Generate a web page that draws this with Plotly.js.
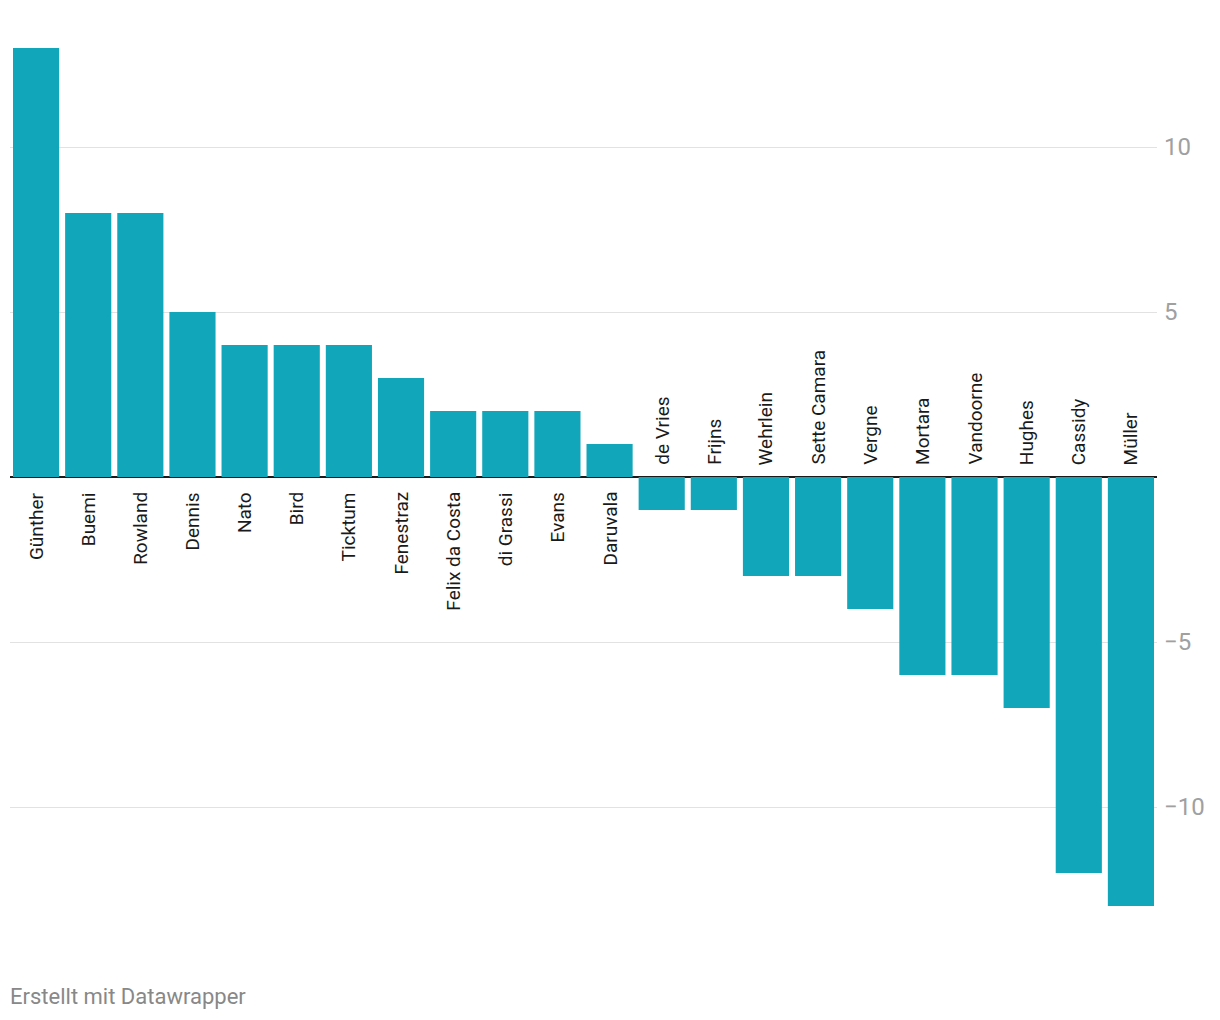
<!DOCTYPE html>
<html>
<head>
<meta charset="utf-8">
<script src="https://cdn.plot.ly/plotly-3.0.1.min.js"></script>
<style>html,body{margin:0;padding:0;background:#fff;}#chart{width:1220px;height:1020px;}</style>
</head>
<body>
<div id="chart"></div>
<script>
const drivers = ["Günther","Buemi","Rowland","Dennis","Nato","Bird","Ticktum","Fenestraz","Felix da Costa","di Grassi","Evans","Daruvala","de Vries","Frijns","Wehrlein","Sette Camara","Vergne","Mortara","Vandoorne","Hughes","Cassidy","Müller"];
const points = [13,8,8,5,4,4,4,3,2,2,2,1,-1,-1,-3,-3,-4,-6,-6,-7,-12,-13];
const tickValues = [-10,-5,5,10];
const tickLabels = ["−10","−5","5","10"];
const footerText = "Erstellt mit Datawrapper";

const annotations = drivers.map((d, i) => ({
  x: d, y: 0, xref: 'x', yref: 'y',
  text: d, showarrow: false, textangle: -90,
  xanchor: 'center',
  yanchor: points[i] >= 0 ? 'top' : 'bottom',
  yshift: points[i] >= 0 ? -13 : 10,
  font: {family: 'Roboto, sans-serif', size: 19, color: '#1a1a1a'}
}));
annotations.push({
  xref: 'paper', yref: 'paper', x: 0, y: 0, xanchor: 'left', yanchor: 'middle',
  xshift: -2, yshift: -57,
  text: footerText, showarrow: false,
  font: {family: 'Roboto, sans-serif', size: 22, color: '#888'}
});

Plotly.newPlot('chart', [{
  type: 'bar', x: drivers, y: points,
  marker: {color: '#12a6ba', line: {width: 0}},
  hoverinfo: 'skip'
}], {
  width: 1220, height: 1020,
  margin: {l: 10, r: 63, t: 15, b: 81, pad: 0},
  paper_bgcolor: '#fff', plot_bgcolor: '#fff',
  bargap: 0.115,
  showlegend: false,
  xaxis: {showticklabels: false, showgrid: false, zeroline: false, showline: false, ticks: '', fixedrange: true},
  yaxis: {
    side: 'right', range: [-14, 14], tickvals: tickValues, ticktext: tickLabels,
    showgrid: true, gridcolor: '#e2e2e2', gridwidth: 1,
    zeroline: true, zerolinecolor: '#1a1a1a', zerolinewidth: 2,
    showline: false, ticks: '', ticklabelstandoff: 6,
    tickfont: {family: 'Roboto, sans-serif', size: 24, color: '#a0a0a0'},
    fixedrange: true
  },
  annotations: annotations
}, {displayModeBar: false, staticPlot: true});
</script>
</body>
</html>
